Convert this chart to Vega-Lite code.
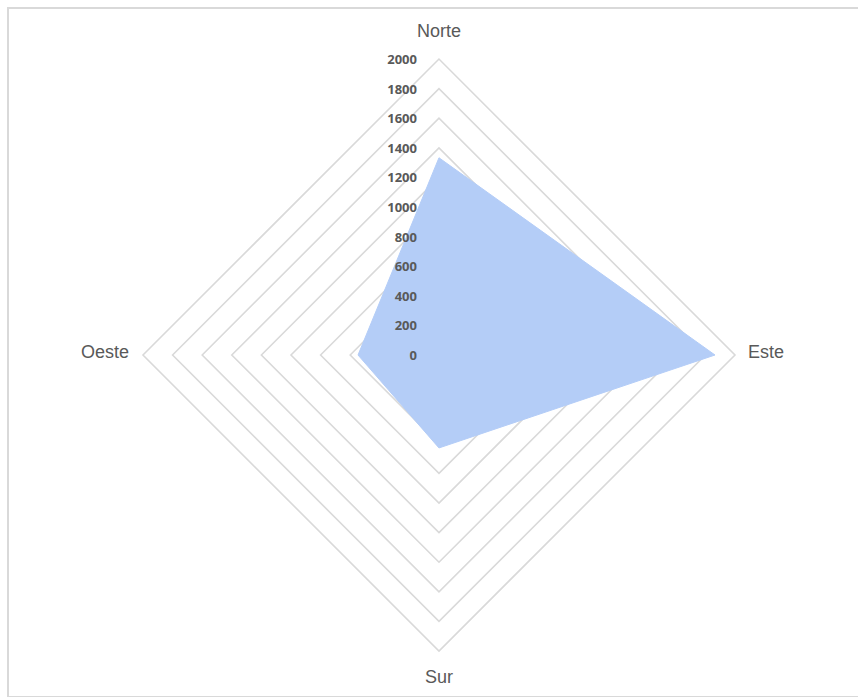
{
  "$schema": "https://vega.github.io/schema/vega-lite/v6.json",
  "width": 900,
  "height": 689,
  "autosize": {"type": "none"},
  "padding": {"left": 8, "top": 8, "right": 0, "bottom": 0},
  "background": "white",
  "config": {"view": {"stroke": "#d9d9d9", "strokeWidth": 2}},
  "datasets": {
    "sales": [
      {"dir": "Norte", "value": 1333},
      {"dir": "Este", "value": 1865},
      {"dir": "Sur", "value": 628},
      {"dir": "Oeste", "value": 547}
    ],
    "rings": [
      {"level": 0}, {"level": 200}, {"level": 400}, {"level": 600}, {"level": 800},
      {"level": 1000}, {"level": 1200}, {"level": 1400}, {"level": 1600}, {"level": 1800}, {"level": 2000}
    ]
  },
  "encoding": {
    "x": {"field": "x", "type": "quantitative", "scale": {"domain": [-2912, 3169], "nice": false, "zero": false}, "axis": null},
    "y": {"field": "y", "type": "quantitative", "scale": {"domain": [-2311, 2345], "nice": false, "zero": false}, "axis": null}
  },
  "layer": [
    {
      "data": {"name": "rings"},
      "transform": [{"filter": "datum.level > 0"}, {"calculate": "0", "as": "x"}, {"calculate": "0", "as": "y"}],
      "mark": {"type": "point", "shape": "diamond", "filled": false, "stroke": "#d9d9d9", "strokeWidth": 1.6, "opacity": 1},
      "encoding": {
        "size": {"field": "level", "type": "quantitative", "scale": {"type": "pow", "exponent": 2, "domain": [0, 2000], "range": [0, 350464]}, "legend": null}
      }
    },
    {
      "data": {"name": "sales"},
      "transform": [
        {"calculate": "datum.dir == 'Norte' ? 0 : datum.dir == 'Este' ? 1 : datum.dir == 'Sur' ? 2 : 3", "as": "k"},
        {"calculate": "datum.dir == 'Este' ? datum.value : datum.dir == 'Oeste' ? -datum.value : 0", "as": "x"},
        {"calculate": "datum.dir == 'Norte' ? datum.value : datum.dir == 'Sur' ? -datum.value : 0", "as": "y"}
      ],
      "mark": {"type": "line", "interpolate": "linear-closed", "fill": "#b4cdf7", "stroke": "#b4cdf7", "strokeWidth": 1, "fillOpacity": 1},
      "encoding": {"order": {"field": "k", "type": "quantitative"}}
    },
    {
      "data": {"name": "rings"},
      "transform": [{"calculate": "0", "as": "x"}, {"calculate": "datum.level", "as": "y"}],
      "mark": {"type": "text", "align": "right", "baseline": "middle", "dx": -22, "dy": 1, "font": "Open Sans", "fontSize": 13, "fontWeight": "bold", "fill": "#595959"},
      "encoding": {"text": {"field": "level", "type": "nominal"}}
    },
    {
      "data": {"name": "sales"},
      "transform": [{"filter": "datum.dir == 'Norte'"}, {"calculate": "0", "as": "x"}, {"calculate": "2000", "as": "y"}],
      "mark": {"type": "text", "align": "center", "baseline": "middle", "dy": -27, "font": "Liberation Sans", "fontSize": 18, "fill": "#595959"},
      "encoding": {"text": {"field": "dir"}}
    },
    {
      "data": {"name": "sales"},
      "transform": [{"filter": "datum.dir == 'Sur'"}, {"calculate": "0", "as": "x"}, {"calculate": "-2000", "as": "y"}],
      "mark": {"type": "text", "align": "center", "baseline": "middle", "dy": 27, "font": "Liberation Sans", "fontSize": 18, "fill": "#595959"},
      "encoding": {"text": {"field": "dir"}}
    },
    {
      "data": {"name": "sales"},
      "transform": [{"filter": "datum.dir == 'Este'"}, {"calculate": "2000", "as": "x"}, {"calculate": "0", "as": "y"}],
      "mark": {"type": "text", "align": "left", "baseline": "middle", "dx": 13, "dy": -2, "font": "Liberation Sans", "fontSize": 18, "fill": "#595959"},
      "encoding": {"text": {"field": "dir"}}
    },
    {
      "data": {"name": "sales"},
      "transform": [{"filter": "datum.dir == 'Oeste'"}, {"calculate": "-2000", "as": "x"}, {"calculate": "0", "as": "y"}],
      "mark": {"type": "text", "align": "right", "baseline": "middle", "dx": -14, "dy": -2, "font": "Liberation Sans", "fontSize": 18, "fill": "#595959"},
      "encoding": {"text": {"field": "dir"}}
    }
  ]
}
